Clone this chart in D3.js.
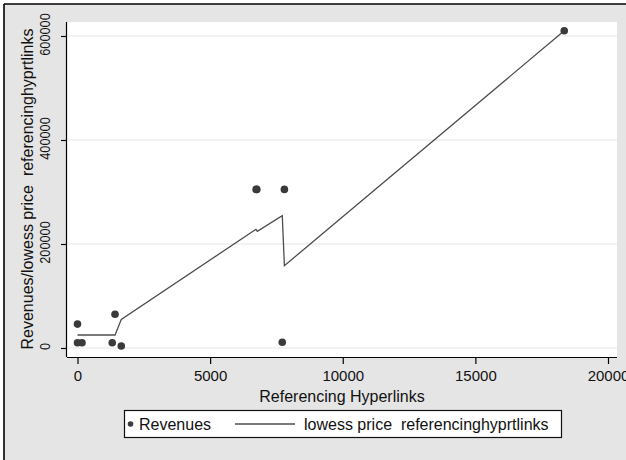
<!DOCTYPE html>
<html>
<head>
<meta charset="utf-8">
<script src="https://cdn.jsdelivr.net/npm/d3@7"></script>
<style>
  html, body { margin: 0; padding: 0; background: #ffffff; }
  svg { display: block; }
  text { font-family: "Liberation Sans", Arial, Helvetica, sans-serif; fill: #111; white-space: pre; }
</style>
</head>
<body>
<svg id="chart" width="626" height="460"></svg>
<script>
// ---- data ----
const hyperlinks = [0, 0, 170, 1310, 1415, 1650, 6735, 6760, 7720, 7800, 18350];
const revenues   = [46000, 10200, 10200, 10200, 64800, 3800, 305000, 305000, 11000, 305000, 610000];
const lowessX    = [0, 170, 1310, 1415, 1650, 6730, 6780, 7720, 7800, 18350];
const lowessY    = [25000, 25000, 25000, 25000, 55000, 228300, 224400, 254400, 158300, 610000];
const xTicks = [0, 5000, 10000, 15000, 20000];
const yTicks = [0, 200000, 400000, 600000];
const xTitle = "Referencing Hyperlinks";
const yTitle = "Revenues/lowess price  referencinghyprtlinks";
const legendLabels = ["Revenues", "lowess price  referencinghyprtlinks"];

const svg = d3.select("#chart");
const W = 626, H = 460;

// outer graph region
svg.append("rect").attr("x", 4).attr("y", 4).attr("width", W).attr("height", H)
  .attr("fill", "#e5e5e5");
svg.append("line").attr("x1", 4).attr("x2", W).attr("y1", 4).attr("y2", 4)
  .attr("stroke", "#000").attr("stroke-width", 1.6);
svg.append("line").attr("x1", 4).attr("x2", 4).attr("y1", 4).attr("y2", H)
  .attr("stroke", "#000").attr("stroke-width", 1.6);

// plot region
const plot = {left: 67, right: 617, top: 22, bottom: 357};
svg.append("rect").attr("x", plot.left).attr("y", plot.top)
  .attr("width", plot.right - plot.left).attr("height", plot.bottom - plot.top)
  .attr("fill", "#ffffff");

const x = d3.scaleLinear().domain([0, 20000]).range([77.5, 608]);
const y = d3.scaleLinear().domain([0, 600000]).range([348, 36]);

// grid
svg.append("g").selectAll("line").data(yTicks).join("line")
  .attr("x1", plot.left).attr("x2", plot.right)
  .attr("y1", d => y(d)).attr("y2", d => y(d))
  .attr("stroke", "#e6e6e6").attr("stroke-width", 1.2);

// x axis
const xAxis = d3.axisBottom(x).tickValues(xTicks).tickFormat(d3.format("d"))
  .tickSize(7).tickSizeOuter(0);
const gx = svg.append("g").attr("transform", `translate(0,${plot.bottom})`).call(xAxis);
gx.select(".domain").attr("d", `M${plot.left},0.5H${plot.right}`).attr("stroke", "#000").attr("stroke-width", 1.2);
gx.selectAll(".tick line").attr("stroke", "#000").attr("stroke-width", 1.2);
gx.selectAll(".tick text").attr("font-size", 15).attr("y", 13).attr("fill", "#111")
  .attr("font-family", "Liberation Sans, Arial, sans-serif");

// y axis
const yAxis = d3.axisLeft(y).tickValues(yTicks).tickFormat(d3.format("d"))
  .tickSize(6).tickSizeOuter(0);
const gy = svg.append("g").attr("transform", `translate(${plot.left},0)`).call(yAxis);
gy.select(".domain").attr("d", `M-0.5,${plot.top}V${plot.bottom}`).attr("stroke", "#000").attr("stroke-width", 1.2);
gy.selectAll(".tick line").attr("stroke", "#000").attr("stroke-width", 1.2);
gy.selectAll(".tick text")
  .attr("font-size", 15).attr("fill", "#111")
  .attr("font-family", "Liberation Sans, Arial, sans-serif")
  .attr("x", null).attr("dy", null)
  .attr("text-anchor", "middle")
  .attr("transform", "translate(-17,-2) rotate(-90) scale(0.85,1)");

// axis titles
svg.append("text").attr("x", 342).attr("y", 402).attr("text-anchor", "middle")
  .attr("font-size", 16).text(xTitle);
svg.append("text").attr("transform", `translate(33,189) rotate(-90)`)
  .attr("text-anchor", "middle").attr("font-size", 16).text(yTitle);

// lowess line
const line = d3.line().x(d => x(d[0])).y(d => y(d[1]));
svg.append("path").datum(lowessX.map((v, i) => [v, lowessY[i]]))
  .attr("d", line).attr("fill", "none").attr("stroke", "#4d4d4d").attr("stroke-width", 1.3);

// scatter points
svg.append("g").selectAll("circle").data(hyperlinks.map((v, i) => [v, revenues[i]])).join("circle")
  .attr("cx", d => x(d[0])).attr("cy", d => y(d[1])).attr("r", 3.8)
  .attr("fill", "#3a3a3a");

// legend
const lg = svg.append("g");
lg.append("rect").attr("x", 124.5).attr("y", 410.5).attr("width", 437).attr("height", 27)
  .attr("fill", "#fff").attr("stroke", "#111").attr("stroke-width", 1.2);
lg.append("circle").attr("cx", 130.5).attr("cy", 424).attr("r", 2.8).attr("fill", "#3a3a3a");
lg.append("text").attr("x", 139).attr("y", 429.5).attr("font-size", 16).text(legendLabels[0]);
lg.append("line").attr("x1", 235).attr("x2", 295).attr("y1", 424).attr("y2", 424)
  .attr("stroke", "#4d4d4d").attr("stroke-width", 1.3);
lg.append("text").attr("x", 304).attr("y", 429.5).attr("font-size", 16).text(legendLabels[1]);
</script>
</body>
</html>
